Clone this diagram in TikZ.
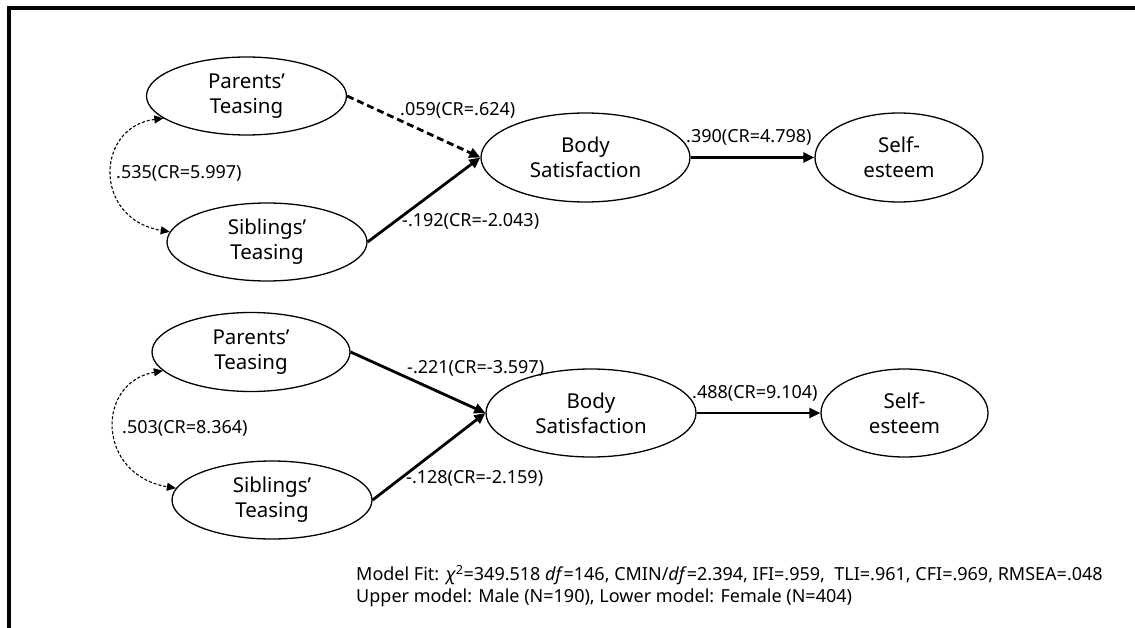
\documentclass[tikz,border=0pt]{standalone}
\usepackage{fontspec}
\setmainfont{Noto Sans}
\usetikzlibrary{shapes.geometric,arrows.meta}
\begin{document}
\begin{tikzpicture}[x=1pt,y=-1pt,
  var/.style={ellipse,draw,line width=1.3pt,inner sep=0pt,align=center,
    font=\fontsize{20.5}{25}\selectfont},
  path/.style={line width=2.8pt,-{Triangle[length=11pt,width=10pt]}},
  dpath/.style={path,dash pattern=on 7pt off 4pt},
  cov/.style={line width=1.1pt,dash pattern=on 3pt off 2pt,
    {Triangle[length=9pt,width=8pt]}-{Triangle[length=9pt,width=8pt]}},
  lab/.style={anchor=west,inner sep=0pt,font=\fontsize{18}{22}\selectfont},
  frame/.style={line width=4pt}]
\useasboundingbox (0,0) rectangle (1135,628);
\coordinate (fb) at (9,628);
\coordinate (fc) at (9,8);
\coordinate (fr) at (1135,8);
\draw[frame] (fb) -- (fc) -- (fr);
% upper model
\node[var,minimum width=200pt,minimum height=78pt] (PT1) at (246.5,96) {Parents'\\Teasing};
\node[var,minimum width=200pt,minimum height=78pt] (ST1) at (267,242) {Siblings'\\Teasing};
\node[var,minimum width=209pt,minimum height=89pt] (BS1) at (585.5,157.5) {Body\\Satisfaction};
\node[var,minimum width=168pt,minimum height=89pt] (SE1) at (899,157.5) {Self-\\esteem};
\draw[dpath] (PT1.east) -- (BS1.west);
\draw[path] (ST1.east) -- (BS1.west);
\draw[path] (BS1.east) -- (SE1.west);
\draw[cov] (PT1.195) .. controls (95,127) and (93,219) .. (ST1.174);
\node[lab] (l1) at (400,110) {.059(CR=.624)};
\node[lab] (l2) at (402,221) {-.192(CR=-2.043)};
\node[lab] (l3) at (116,173) {.535(CR=5.997)};
\node[lab] (l4) at (686,137) {.390(CR=4.798)};
% lower model
\node[var,minimum width=198pt,minimum height=79pt] (PT2) at (251,352) {Parents'\\Teasing};
\node[var,minimum width=200pt,minimum height=78pt] (ST2) at (272,500) {Siblings'\\Teasing};
\node[var,minimum width=210pt,minimum height=88pt] (BS2) at (591,413) {Body\\Satisfaction};
\node[var,minimum width=167pt,minimum height=88pt] (SE2) at (904.5,413) {Self-\\esteem};
\draw[path] (PT2.east) -- (BS2.west);
\draw[path] (ST2.east) -- (BS2.west);
\draw[path] (BS2.east) -- (SE2.west);
\draw[cov] (PT2.192) .. controls (95,383) and (97,475) .. (ST2.173);
\node[lab] (l5) at (407,368) {-.221(CR=-3.597)};
\node[lab] (l6) at (406,478) {-.128(CR=-2.159)};
\node[lab] (l7) at (122,428) {.503(CR=8.364)};
\node[lab] (l8) at (692,393) {.488(CR=9.104)};
% note
\node[lab,align=left,font=\fontsize{18}{22.5}\selectfont] (note) at (356,586)
  {Model Fit: \textit{χ}\textsuperscript{2}=349.518 \textit{df}=146, CMIN/\textit{df}=2.394, IFI=.959,~~TLI=.961, CFI=.969, RMSEA=.048\\
   Upper model: Male (N=190), Lower model: Female (N=404)};
\end{tikzpicture}
\end{document}
